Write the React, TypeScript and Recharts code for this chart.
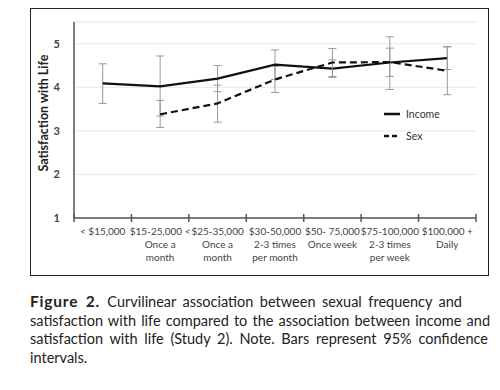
import { LineChart, Line, XAxis, YAxis, CartesianGrid, ErrorBar, Legend } from "recharts"

const categories = [
  ["< $15,000"],
  ["$15-25,000 <", "Once a", "month"],
  ["$25-35,000", "Once a", "month"],
  ["$30-50,000", "2-3 times", "per month"],
  ["$50- 75,000", "Once week"],
  ["$75-100,000", "2-3 times", "per week"],
  ["$100,000 +", "Daily"],
]

const income = [4.09, 4.02, 4.2, 4.52, 4.43, 4.57, 4.67]
const incomeLow = [3.63, 3.34, 3.9, 4.18, 4.23, 4.25, 4.41]
const incomeHigh = [4.54, 4.72, 4.5, 4.86, 4.63, 4.9, 4.93]

const sex = [null, 3.38, 3.63, 4.18, 4.57, 4.58, 4.38]
const sexLow = [null, 3.08, 3.2, 3.88, 4.25, 3.95, 3.83]
const sexHigh = [null, 3.7, 4.05, 4.48, 4.89, 5.16, 4.93]

const yTicks = [1, 2, 3, 4, 5]

const captionLines = [
  "Curvilinear association between sexual frequency and",
  "satisfaction with life compared to the association between income and",
  "satisfaction with life (Study 2). Note. Bars represent 95% confidence",
  "intervals.",
]
const captionWidths = [432, 460, 458, 0]

const data = categories.map((c, i) => ({
  x: i + 0.5,
  income: income[i],
  incomeErr: [income[i] - incomeLow[i], incomeHigh[i] - income[i]],
  sex: sex[i],
  sexErr: sex[i] == null ? null : [sex[i]! - sexLow[i]!, sexHigh[i]! - sex[i]!],
}))

// integers = boundary tick marks, halves = category labels
const xTicks: number[] = []
for (let i = 0; i <= categories.length * 2; i++) xTicks.push(i / 2)

const font = "Lato, 'Open Sans', sans-serif"

const XTick = (props: any) => {
  const { x, y, payload } = props
  const v = payload.value
  if (Number.isInteger(v)) {
    return <line x1={x} x2={x} y1={y - 4} y2={y + 4} stroke="#555" strokeWidth={1.5} />
  }
  const lines = categories[Math.floor(v)]
  return (
    <text x={x} y={y + 17} textAnchor="middle" fontSize={10} fill="#444" fontFamily={font}>
      {lines.map((l, i) => (
        <tspan key={i} x={x} dy={i === 0 ? 0 : 13}>{l}</tspan>
      ))}
    </text>
  )
}

const LegendContent = () => (
  <div style={{ fontFamily: font, fontSize: 10.5, color: "#333" }}>
    <div style={{ display: "flex", alignItems: "center", height: 22 }}>
      <svg width={18} height={6}><line x1={0} x2={16} y1={3} y2={3} stroke="#111" strokeWidth={2.5} /></svg>
      <span style={{ marginLeft: 4 }}>Income</span>
    </div>
    <div style={{ display: "flex", alignItems: "center", height: 22 }}>
      <svg width={18} height={6}><line x1={0} x2={16} y1={3} y2={3} stroke="#111" strokeWidth={2.5} strokeDasharray="5 3" /></svg>
      <span style={{ marginLeft: 4 }}>Sex</span>
    </div>
  </div>
)

export default function App() {
  return (
    <div style={{ position: "relative", margin: -8, width: 500, height: 390, background: "#fff" }}>
      <div style={{ position: "absolute", left: 30, top: 8, width: 457, height: 266, border: "1.5px solid #222" }} />
      <div style={{ position: "absolute", left: 0, top: 0 }}>
        <LineChart width={500} height={280} data={data} margin={{ top: 22, right: 24, bottom: 0, left: 0 }}>
          <CartesianGrid vertical={false} stroke="#e8e8e8" />
          <XAxis
            dataKey="x"
            type="number"
            domain={[0, categories.length]}
            ticks={xTicks}
            interval={0}
            tick={<XTick />}
            tickLine={false}
            tickSize={0}
            tickMargin={0}
            height={62}
            stroke="#555"
            strokeWidth={1.5}
          />
          <YAxis
            domain={[1, 5.5]}
            ticks={yTicks}
            tickLine={false}
            tickMargin={8}
            width={74}
            stroke="#555"
            strokeWidth={1.5}
            tick={{ fontSize: 11, fill: "#444", fontFamily: font, fontWeight: 700 }}
            label={{
              value: "Satisfaction with Life",
              angle: -90,
              position: "insideLeft",
              offset: 44,
              dy: -7,
              style: { textAnchor: "middle", fontSize: 12.5, fontWeight: 700, fill: "#222", fontFamily: font },
            }}
          />
          <Legend
            layout="vertical"
            align="center"
            verticalAlign="middle"
            content={<LegendContent />}
            wrapperStyle={{ left: 384, top: 103, width: 90 }}
          />
          <Line dataKey="income" stroke="#111" strokeWidth={2.2} dot={false} isAnimationActive={false}>
            <ErrorBar dataKey="incomeErr" width={4} stroke="#999" strokeWidth={1} />
          </Line>
          <Line dataKey="sex" stroke="#111" strokeWidth={2.2} strokeDasharray="7 4" dot={false} connectNulls={false} isAnimationActive={false}>
            <ErrorBar dataKey="sexErr" width={4} stroke="#999" strokeWidth={1} />
          </Line>
        </LineChart>
      </div>
      <div
        style={{
          position: "absolute",
          left: 30,
          top: 292,
          fontFamily: font,
          fontSize: 14.5,
          lineHeight: "18.6px",
          color: "#222",
          whiteSpace: "nowrap",
        }}
      >
        {captionLines.map((l, i) => (
          <div
            key={i}
            style={
              captionWidths[i]
                ? { width: captionWidths[i], textAlign: "justify", textAlignLast: "justify", whiteSpace: "normal" }
                : undefined
            }
          >
            {i === 0 && <b style={{ fontSize: 15.5, letterSpacing: 0.8 }}>Figure 2. </b>}
            {l}
          </div>
        ))}
      </div>
    </div>
  )
}
